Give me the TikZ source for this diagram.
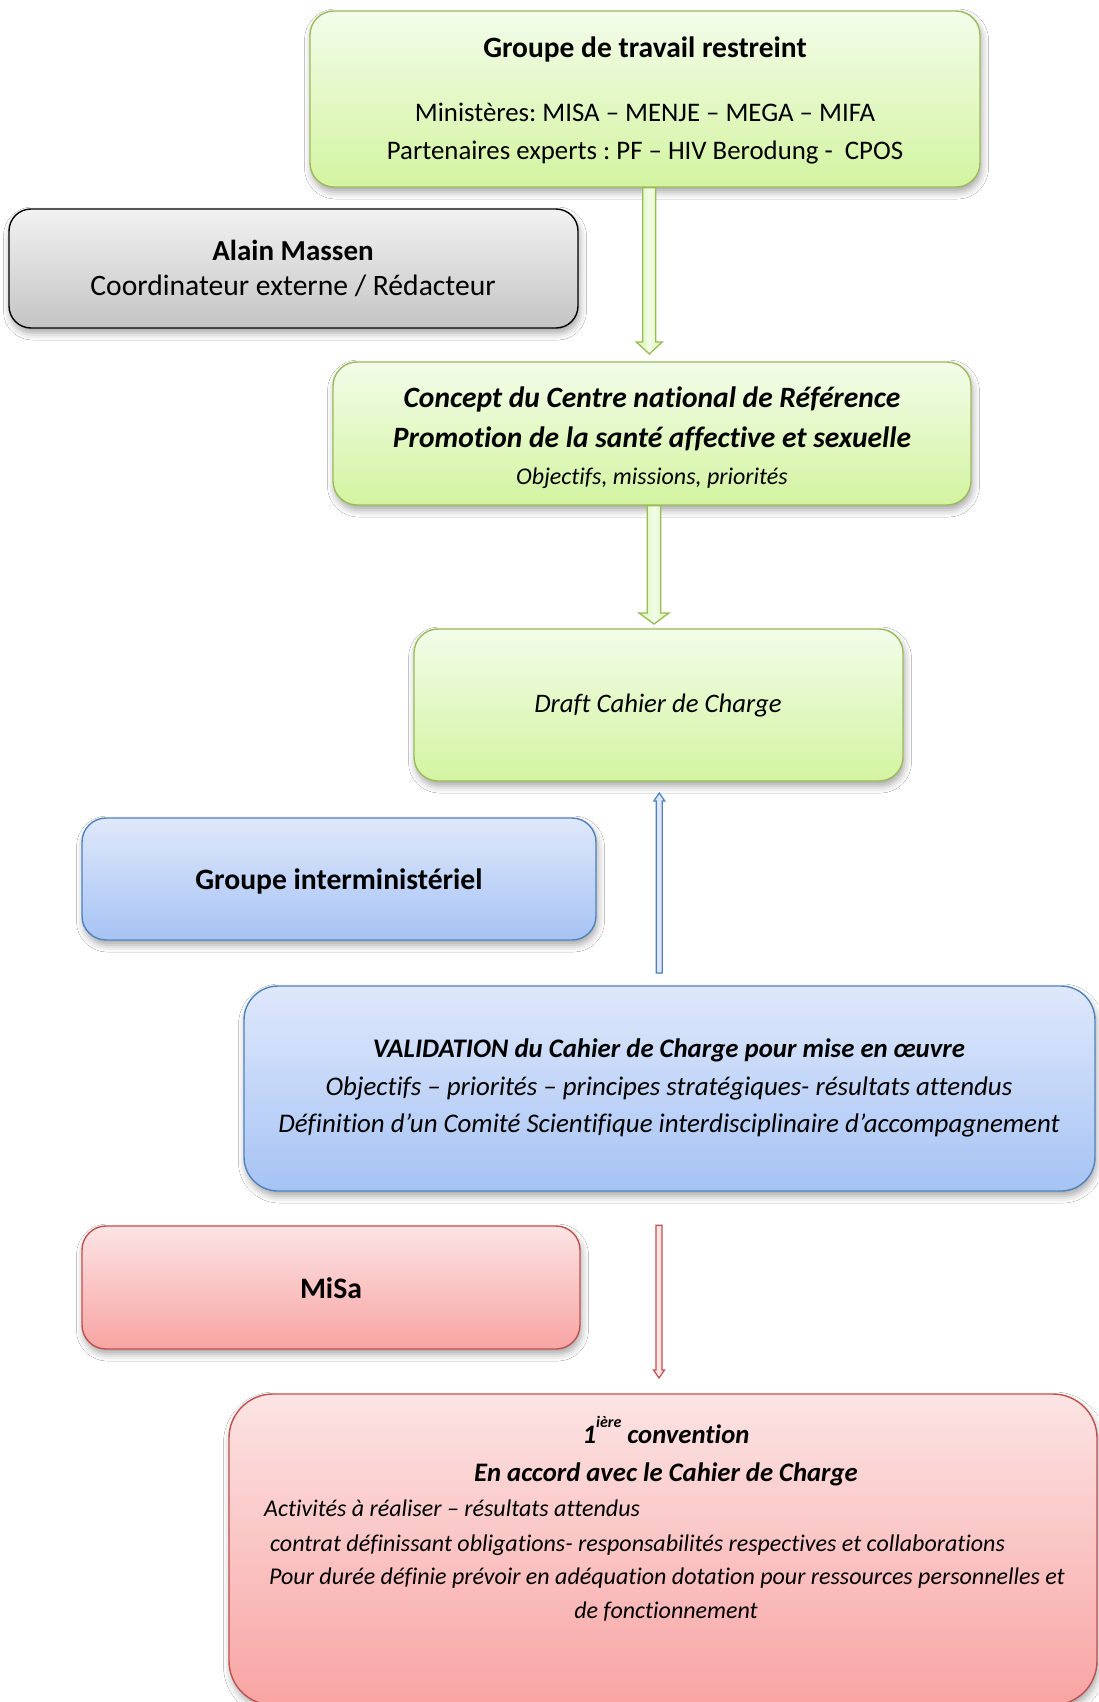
\documentclass[tikz,border=0pt]{standalone}
\usepackage{fontspec}
\setmainfont{Carlito}[Ligatures=NoCommon]
\usetikzlibrary{calc,shadows.blur}
\definecolor{grB}{HTML}{9BBB59}
\definecolor{grT}{HTML}{F3FCEA}
\definecolor{grBot}{HTML}{D3F4A0}
\definecolor{blB}{HTML}{4F81BD}
\definecolor{blT}{HTML}{DFE8FB}
\definecolor{blBot}{HTML}{A6C3F4}
\definecolor{rdB}{HTML}{C0504D}
\definecolor{rdT}{HTML}{FCE4E4}
\definecolor{rdBot}{HTML}{F8A4A3}
\definecolor{gyT}{HTML}{F2F2F2}
\definecolor{gyBot}{HTML}{C4C4C4}
\newcommand\fatarrow[6]{%
  \draw[#1] let \p1=(#2), \p2=(#3), \n1={sign(\y2-\y1)} in
    ({\x1-#4pt},\y1) -- ({\x1-#4pt},{\y2-\n1*#6pt}) -- ({\x1-#5pt},{\y2-\n1*#6pt}) -- (\x1,\y2)
    -- ({\x1+#5pt},{\y2-\n1*#6pt}) -- ({\x1+#4pt},{\y2-\n1*#6pt}) -- ({\x1+#4pt},\y1) -- cycle;}
\frenchspacing
\begin{document}
\begin{tikzpicture}[x=1pt,y=-1pt,
  box/.style={line width=1.4pt, inner sep=0pt,
    blur shadow={shadow xshift=1.5pt,shadow yshift=-5pt,shadow blur radius=7pt,shadow opacity=35}},
  greenbox/.style={box, rounded corners=24pt, draw=grB, top color=grT, bottom color=grBot},
  bluebox/.style={box, rounded corners=24pt, draw=blB, top color=blT, bottom color=blBot},
  redbox/.style={box, rounded corners=24pt, draw=rdB, top color=rdT, bottom color=rdBot},
  graybox/.style={box, rounded corners=22pt, draw=black, top color=gyT, bottom color=gyBot},
  txt/.style={inner sep=0pt, text height=0.72em, text depth=0.2em},
  greenarrow/.style={draw=grB, line width=1.3pt, left color=grBot, right color=grBot, middle color=grT},
  bluearrow/.style={draw=blB, line width=1.2pt, fill=blT},
  redarrow/.style={draw=rdB, line width=1.2pt, fill=rdT}]
\useasboundingbox (0,0) rectangle (1098,1702);
\fill[white] (0,0) rectangle (1098,1702);

% boxes
\node[greenbox, minimum width=670pt, minimum height=176pt] (b1) at (645,99) {};
\node[graybox, minimum width=569pt, minimum height=119pt] (b2) at (293.5,268.5) {};
\node[greenbox, minimum width=638pt, minimum height=143pt] (b3) at (652,433.5) {};
\node[greenbox, minimum width=489pt, minimum height=152pt] (b4) at (658.5,705) {};
\node[bluebox, minimum width=514pt, minimum height=122pt] (b5) at (339,879) {};
\node[bluebox, rounded corners=34pt, minimum width=851pt, minimum height=205pt] (b6) at (669.5,1088.5) {};
\node[redbox, minimum width=498pt, minimum height=123pt] (b7) at (331,1287.5) {};
\node[redbox, rounded corners=44pt, minimum width=868pt, minimum height=311pt] (b8) at (663,1549.5) {};

% texts
\node[txt, font=\bfseries\fontsize{29.5}{29.5}\selectfont] (t1a) at (645,55) {Groupe de travail restreint};
\node[txt, font=\fontsize{26.8}{26.8}\selectfont] (t1b) at (645,119) {Ministères: MISA – MENJE – MEGA – MIFA};
\node[txt, font=\fontsize{26.8}{26.8}\selectfont] (t1c) at (645,157) {Partenaires experts : PF – HIV Berodung -\ \ CPOS};

\node[txt, font=\bfseries\fontsize{29}{29}\selectfont] (t2a) at (293,258) {Alain Massen};
\node[txt, font=\fontsize{29.6}{29.6}\selectfont] (t2b) at (293,293) {Coordinateur externe / Rédacteur};

\node[txt, font=\bfseries\itshape\fontsize{29.5}{29.5}\selectfont] (t3a) at (652,405) {Concept du Centre national de Référence};
\node[txt, font=\bfseries\itshape\fontsize{29.5}{29.5}\selectfont] (t3b) at (652,445) {Promotion de la santé affective et sexuelle};
\node[txt, font=\itshape\fontsize{24}{24}\selectfont] (t3c) at (652,482) {Objectifs, missions, priorités};

\node[txt, font=\itshape\fontsize{26.7}{26.7}\selectfont] (t4) at (658,710) {Draft Cahier de Charge};

\node[txt, font=\bfseries\fontsize{29.6}{29.6}\selectfont] (t5) at (339,887) {Groupe interministériel};

\node[txt, font=\bfseries\itshape\fontsize{26.8}{26.8}\selectfont] (t6a) at (669,1055) {VALIDATION du Cahier de Charge pour mise en œuvre};
\node[txt, font=\itshape\fontsize{26.9}{26.9}\selectfont] (t6b) at (669,1093) {Objectifs – priorités – principes stratégiques- résultats attendus};
\node[txt, font=\itshape\fontsize{26.9}{26.9}\selectfont] (t6c) at (669,1130) {Définition d’un Comité Scientifique interdisciplinaire d’accompagnement};

\node[txt, font=\bfseries\fontsize{29.7}{29.7}\selectfont] (t7) at (331,1296) {MiSa};

\node[txt, font=\bfseries\itshape\fontsize{26.7}{26.7}\selectfont] (t8a) at (666,1441) {1\raisebox{0.62em}{\fontsize{16}{16}\selectfont ière} convention};
\node[txt, font=\bfseries\itshape\fontsize{26.7}{26.7}\selectfont] (t8b) at (666,1479) {En accord avec le Cahier de Charge};
\node[txt, anchor=west, font=\itshape\fontsize{24}{24}\selectfont] (t8c) at (264,1514) {Activités à réaliser – résultats attendus};
\node[txt, anchor=west, font=\itshape\fontsize{24}{24}\selectfont] (t8d) at (270,1549) {contrat définissant obligations- responsabilités respectives et collaborations};
\node[txt, anchor=west, font=\itshape\fontsize{24}{24}\selectfont] (t8e) at (269,1582) {Pour durée définie prévoir en adéquation dotation pour ressources personnelles et};
\node[txt, font=\itshape\fontsize{24}{24}\selectfont] (t8f) at (666,1616) {de fonctionnement};

% arrows
\coordinate (a1s) at (b1.south -| 649.3,0);
\coordinate (a1e) at (649.3,354);
\coordinate (a2s) at (b3.south -| 654,0);
\coordinate (a2e) at (654,624);
\coordinate (a3s) at (659.3,973);
\coordinate (a3e) at (659.3,793);
\coordinate (a4s) at (b7.north -| 659,0);
\coordinate (a4e) at (659,1378);
\fatarrow{greenarrow}{a1s}{a1e}{6.5}{13}{12}
\fatarrow{greenarrow}{a2s}{a2e}{6.7}{15}{11}
\fatarrow{bluearrow}{a3s}{a3e}{3}{5.5}{8}
\fatarrow{redarrow}{a4s}{a4e}{3}{5.5}{8}
\end{tikzpicture}
\end{document}
